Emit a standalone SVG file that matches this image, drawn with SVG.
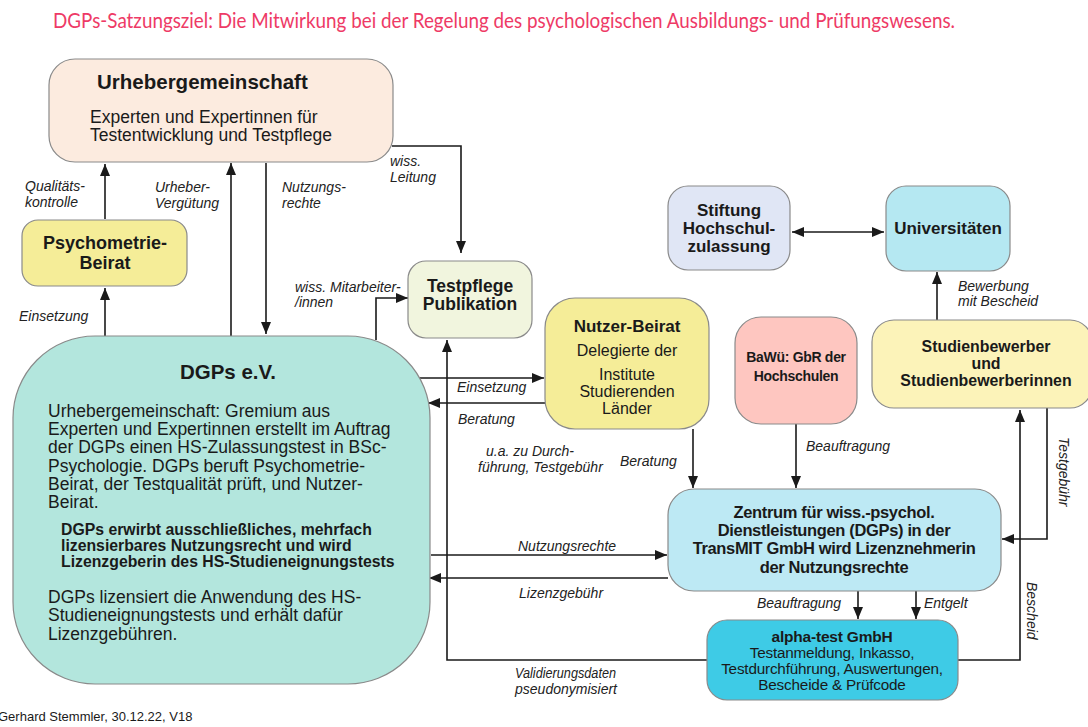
<svg xmlns="http://www.w3.org/2000/svg" width="1088" height="727" viewBox="0 0 1088 727">
<style>
.box{stroke:#8a8a8a;stroke-width:1.2}
.t{font-family:"Liberation Sans",Arial,sans-serif;fill:#1a1a1a}
.b{font-weight:bold}
.lbl{font-family:"Liberation Sans",Arial,sans-serif;font-style:italic;font-size:14px;fill:#222}
.c{fill:none;stroke:#1a1a1a;stroke-width:1.6}
.a{marker-end:url(#ah)}
</style>
<defs>
<marker id="ah" viewBox="0 0 12 10" refX="12" refY="5" markerWidth="12" markerHeight="10" orient="auto-start-reverse" markerUnits="userSpaceOnUse">
<path d="M0,0 L12,5 L0,10 z" fill="#1a1a1a"/>
</marker>
</defs>
<rect width="1088" height="727" fill="#fff"/>
<text x="53" y="28" font-family="Lato,'Open Sans',sans-serif" font-size="20.5" fill="#ee3a66" textLength="902" lengthAdjust="spacingAndGlyphs">DGPs-Satzungsziel: Die Mitwirkung bei der Regelung des psychologischen Ausbildungs- und Prüfungswesens.</text>

<g id="connectors">
<line class="c a" x1="105" y1="219" x2="105" y2="164"/>
<line class="c a" x1="105" y1="337" x2="105" y2="288"/>
<line class="c a" x1="231" y1="337" x2="231" y2="163"/>
<line class="c a" x1="266" y1="163" x2="266" y2="334"/>
<polyline class="c a" points="392,146 461,146 461,253"/>
<polyline class="c a" points="376,340 376,298 408,298"/>
<line class="c a" x1="415" y1="378" x2="544" y2="378"/>
<line class="c a" x1="545" y1="403" x2="428" y2="403"/>
<polyline class="c a" points="707,660 447,660 447,340"/>
<line class="c a" x1="693" y1="429" x2="693" y2="488"/>
<line class="c a" x1="796" y1="424" x2="796" y2="488"/>
<line class="c a" x1="431" y1="555" x2="667" y2="555"/>
<line class="c a" x1="668" y1="578" x2="429" y2="578"/>
<line class="c a" x1="858" y1="591" x2="858" y2="619"/>
<line class="c a" x1="916" y1="591" x2="916" y2="619"/>
<polyline class="c a" points="1047,408 1047,539 1002,539"/>
<polyline class="c a" points="958,660 1020,660 1020,410"/>
<line class="c a" x1="937" y1="320" x2="937" y2="272"/>
<line class="c" x1="792" y1="232" x2="884" y2="232" marker-start="url(#ah)" marker-end="url(#ah)"/>
</g>

<g id="labels">
<text class="lbl"><tspan x="25" y="191">Qualitäts-</tspan><tspan x="25" y="207">kontrolle</tspan></text>
<text class="lbl" x="19" y="321">Einsetzung</text>
<text class="lbl"><tspan x="155" y="192">Urheber-</tspan><tspan x="155" y="208">Vergütung</tspan></text>
<text class="lbl"><tspan x="282" y="192">Nutzungs-</tspan><tspan x="282" y="208">rechte</tspan></text>
<text class="lbl"><tspan x="390" y="166">wiss.</tspan><tspan x="390" y="182">Leitung</tspan></text>
<text class="lbl"><tspan x="295" y="292">wiss. Mitarbeiter-</tspan><tspan x="295" y="307">/innen</tspan></text>
<text class="lbl" x="457" y="392">Einsetzung</text>
<text class="lbl" x="458" y="424">Beratung</text>
<text class="lbl"><tspan x="486" y="456">u.a. zu Durch-</tspan><tspan x="478" y="472">führung, Testgebühr</tspan></text>
<text class="lbl" x="620" y="466">Beratung</text>
<text class="lbl" x="806" y="451">Beauftragung</text>
<text class="lbl" x="518" y="551">Nutzungsrechte</text>
<text class="lbl" x="519" y="598">Lizenzgebühr</text>
<text class="lbl" x="757" y="608">Beauftragung</text>
<text class="lbl" x="924" y="608">Entgelt</text>
<text class="lbl" font-size="13"><tspan x="515" y="678" textLength="101" lengthAdjust="spacingAndGlyphs">Validierungsdaten</tspan><tspan x="515" y="694" textLength="102" lengthAdjust="spacingAndGlyphs">pseudonymisiert</tspan></text>
<text class="lbl"><tspan x="958" y="291">Bewerbung</tspan><tspan x="958" y="306">mit Bescheid</tspan></text>
<text class="lbl" transform="translate(1059,437) rotate(90)">Testgebühr</text>
<text class="lbl" transform="translate(1027,582) rotate(90)">Bescheid</text>
</g>

<g id="urheber">
<rect class="box" x="49" y="59" width="344" height="103" rx="26" fill="#fcebdf"/>
<text class="t b" x="97" y="89" font-size="20.5">Urhebergemeinschaft</text>
<text class="t" font-size="17.5"><tspan x="90" y="123">Experten und Expertinnen  für</tspan><tspan x="90" y="141">Testentwicklung und Testpflege</tspan></text>
</g>

<g id="psychometrie">
<rect class="box" x="22" y="220" width="165" height="66" rx="16" fill="#f5ed98"/>
<text class="t b" font-size="18" text-anchor="middle"><tspan x="105" y="249">Psychometrie-</tspan><tspan x="105" y="269">Beirat</tspan></text>
</g>

<g id="testpflege">
<rect class="box" x="408" y="261" width="124" height="77" rx="18" fill="#f1f5de"/>
<text class="t b" font-size="17.5" text-anchor="middle"><tspan x="470" y="292">Testpflege</tspan><tspan x="470" y="310">Publikation</tspan></text>
</g>

<g id="dgps">
<rect class="box" x="13" y="336" width="417" height="348" rx="82" fill="#b3e6dd"/>
<text class="t b" x="228" y="379" font-size="20.5" text-anchor="middle">DGPs e.V.</text>
<text class="t" font-size="17.5"><tspan x="48" y="417">Urhebergemeinschaft: Gremium aus</tspan><tspan x="48" y="435">Experten und Expertinnen erstellt im Auftrag</tspan><tspan x="48" y="453">der DGPs einen HS-Zulassungstest in BSc-</tspan><tspan x="48" y="472">Psychologie. DGPs beruft Psychometrie-</tspan><tspan x="48" y="490">Beirat, der Testqualität prüft, und Nutzer-</tspan><tspan x="48" y="508">Beirat.</tspan></text>
<text class="t b" font-size="15.8"><tspan x="61" y="535">DGPs erwirbt ausschließliches, mehrfach</tspan><tspan x="61" y="551">lizensierbares Nutzungsrecht und wird</tspan><tspan x="61" y="567">Lizenzgeberin des HS-Studieneignungstests</tspan></text>
<text class="t" font-size="17.5"><tspan x="48" y="603">DGPs lizensiert die Anwendung des HS-</tspan><tspan x="48" y="621">Studieneignungstests und erhält dafür</tspan><tspan x="48" y="640">Lizenzgebühren.</tspan></text>
</g>

<g id="nutzerbeirat">
<rect class="box" x="545" y="298" width="164" height="131" rx="30" fill="#f5ed98"/>
<text class="t b" x="627" y="332" font-size="17" text-anchor="middle">Nutzer-Beirat</text>
<text class="t" font-size="16" text-anchor="middle"><tspan x="627" y="356">Delegierte der</tspan><tspan x="627" y="380">Institute</tspan><tspan x="627" y="397">Studierenden</tspan><tspan x="627" y="414">Länder</tspan></text>
</g>

<g id="stiftung">
<rect class="box" x="668" y="186" width="122" height="84" rx="20" fill="#e0e6f5"/>
<text class="t b" font-size="17" text-anchor="middle"><tspan x="729" y="216">Stiftung</tspan><tspan x="729" y="234">Hochschul-</tspan><tspan x="729" y="252">zulassung</tspan></text>
</g>

<g id="universitaeten">
<rect class="box" x="886" y="186" width="124" height="85" rx="20" fill="#b5e8f2"/>
<text class="t b" x="948" y="234" font-size="17" text-anchor="middle">Universitäten</text>
</g>

<g id="bawue">
<rect class="box" x="735" y="317" width="122" height="107" rx="26" fill="#fec6c0"/>
<text class="t b" font-size="14" text-anchor="middle" letter-spacing="-0.3"><tspan x="796" y="362">BaWü: GbR der</tspan><tspan x="796" y="381">Hochschulen</tspan></text>
</g>

<g id="studienbewerber">
<rect class="box" x="872" y="320" width="220" height="88" rx="22" fill="#fcf3b9"/>
<text class="t b" font-size="15.9" text-anchor="middle"><tspan x="986" y="352">Studienbewerber</tspan><tspan x="986" y="369">und</tspan><tspan x="986" y="386">Studienbewerberinnen</tspan></text>
</g>

<g id="zentrum">
<rect class="box" x="668" y="489" width="333" height="102" rx="26" fill="#bde9f4"/>
<text class="t b" font-size="16.5" text-anchor="middle" letter-spacing="-0.35"><tspan x="834" y="518">Zentrum für wiss.-psychol.</tspan><tspan x="834" y="536">Dienstleistungen (DGPs) in der</tspan><tspan x="834" y="554">TransMIT GmbH wird Lizenznehmerin</tspan><tspan x="834" y="573">der Nutzungsrechte</tspan></text>
</g>

<g id="alphatest">
<rect class="box" x="707" y="620" width="251" height="80" rx="20" fill="#3ecbe6"/>
<text class="t b" x="832" y="642" font-size="15.5" text-anchor="middle" letter-spacing="-0.2">alpha-test GmbH</text>
<text class="t" font-size="15.3" text-anchor="middle" letter-spacing="-0.2"><tspan x="832" y="658">Testanmeldung, Inkasso,</tspan><tspan x="832" y="674">Testdurchführung, Auswertungen,</tspan><tspan x="832" y="690">Bescheide &amp; Prüfcode</tspan></text>
</g>

<text class="t" x="-2" y="721" font-size="13">Gerhard Stemmler, 30.12.22, V18</text>
</svg>
